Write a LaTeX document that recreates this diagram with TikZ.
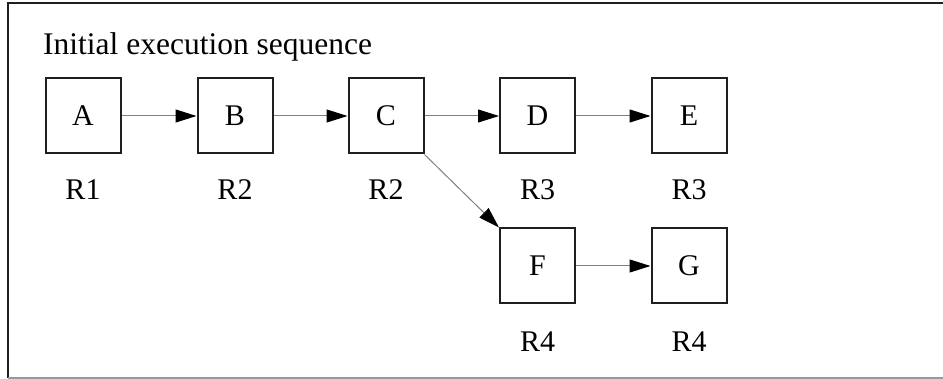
\documentclass[tikz,border=0pt]{standalone}
\usepackage{fontspec}
\setmainfont{Liberation Serif}
\usetikzlibrary{arrows.meta}
\begin{document}
\begin{tikzpicture}[x=1pt,y=-1pt,
  stepbox/.style={draw=black!88,line width=2pt,minimum size=75pt,inner sep=0pt,font=\fontsize{30}{36}\selectfont},
  reglabel/.style={inner sep=0pt,font=\fontsize{30}{36}\selectfont},
  conn/.style={draw=black!50,line width=1pt,-{Triangle[length=21pt,width=13pt,color=black]}}]
\useasboundingbox (0,0) rectangle (943,379);
\draw[black!88,line width=2pt] (945,3) -- (8,3) -- (8,378);
\draw[black!40,line width=1.2pt] (8,378) -- (945,378);
\node[anchor=base west,inner sep=0pt,font=\fontsize{31.5}{38}\selectfont] (title) at (43,55) {Initial execution sequence};
\node[stepbox] (A) at (83,116) {A};
\node[stepbox] (B) at (235,116) {B};
\node[stepbox] (C) at (386,116) {C};
\node[stepbox] (D) at (537.5,116) {D};
\node[stepbox] (E) at (689,116) {E};
\node[stepbox] (F) at (537.5,266) {F};
\node[stepbox] (G) at (689,266) {G};
\node[reglabel] (lA) at (83,190) {R1};
\node[reglabel] (lB) at (235,190) {R2};
\node[reglabel] (lC) at (386,190) {R2};
\node[reglabel] (lD) at (537.5,190) {R3};
\node[reglabel] (lE) at (689,190) {R3};
\node[reglabel] (lF) at (537.5,342) {R4};
\node[reglabel] (lG) at (689,342) {R4};
\draw[conn] (A) -- (B);
\draw[conn] (B) -- (C);
\draw[conn] (C) -- (D);
\draw[conn] (D) -- (E);
\draw[conn] (F) -- (G);
\draw[conn] (C.south east) -- (F.north west);
\end{tikzpicture}
\end{document}
